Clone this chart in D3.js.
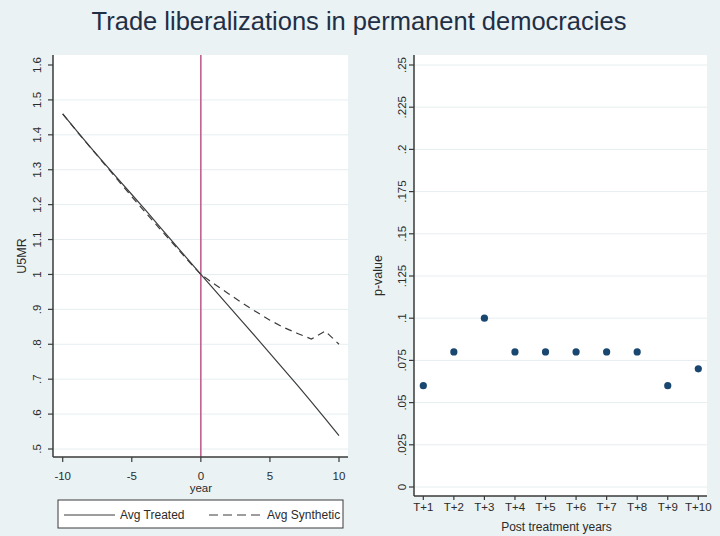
<!DOCTYPE html>
<html>
<head>
<meta charset="utf-8">
<script src="https://cdn.jsdelivr.net/npm/d3@7"></script>
<style>
  html, body { margin: 0; padding: 0; background: #eaf2f3; }
  svg { display: block; font-family: "Liberation Sans", Arial, sans-serif; }
</style>
</head>
<body>
<svg id="chart" width="720" height="536"></svg>
<script>
// ---- Left panel: average U5MR, treated vs synthetic ----
const years = [-10, -9, -8, -7, -6, -5, -4, -3, -2, -1, 0, 1, 2, 3, 4, 5, 6, 7, 8, 9, 10];
const avgTreated = [1.46, 1.412, 1.365, 1.319, 1.274, 1.229, 1.184, 1.138, 1.092, 1.046, 1.0,
                    0.955, 0.91, 0.865, 0.82, 0.774, 0.728, 0.682, 0.635, 0.587, 0.538];
const avgSynthetic = [1.46, 1.411, 1.364, 1.317, 1.27, 1.223, 1.177, 1.132, 1.088, 1.043, 1.0,
                      0.972, 0.945, 0.918, 0.893, 0.869, 0.848, 0.831, 0.815, 0.838, 0.80];
const leftYTicks = [0.5, 0.6, 0.7, 0.8, 0.9, 1.0, 1.1, 1.2, 1.3, 1.4, 1.5, 1.6];
const leftXTicks = [-10, -5, 0, 5, 10];
const treatmentYear = 0;

// ---- Right panel: p-values by post-treatment year ----
const postYears = ["T+1", "T+2", "T+3", "T+4", "T+5", "T+6", "T+7", "T+8", "T+9", "T+10"];
const pValues = [0.06, 0.08, 0.10, 0.08, 0.08, 0.08, 0.08, 0.08, 0.06, 0.07];
const rightYTicks = [0, 0.025, 0.05, 0.075, 0.1, 0.125, 0.15, 0.175, 0.2, 0.225, 0.25];

const titleText = "Trade liberalizations in permanent democracies";

// Stata-style number labels: drop the leading zero (".5", ".025")
const stataFmt = v => {
  const s = String(+v.toFixed(3));
  return s.startsWith("0.") ? s.slice(1) : s;
};

const svg = d3.select("#chart");
const axisColor = "#3a3a3a";
const gridColor = "#e6eef0";
const textColor = "#2b2b2b";
const bg = "#eaf2f3";

svg.append("rect").attr("width", 720).attr("height", 536).attr("fill", bg);

svg.append("text")
  .attr("x", 359).attr("y", 30)
  .attr("text-anchor", "middle")
  .attr("font-size", 25.5)
  .attr("fill", "#1f2f45")
  .text(titleText);

// Draw a vertical-label Stata y axis plus gridlines
function drawYAxis(g, y, ticks, x0, x1, labelX, fmt) {
  g.selectAll(".grid").data(ticks).join("line")
    .attr("x1", x0).attr("x2", x1)
    .attr("y1", d => y(d)).attr("y2", d => y(d))
    .attr("stroke", gridColor).attr("stroke-width", 1);
  g.selectAll(".ytick").data(ticks).join("line")
    .attr("x1", x0 - 5).attr("x2", x0)
    .attr("y1", d => y(d)).attr("y2", d => y(d))
    .attr("stroke", axisColor).attr("stroke-width", 1.2);
  g.selectAll(".ylab").data(ticks).join("text")
    .attr("transform", d => `translate(${labelX},${y(d)}) rotate(-90)`)
    .attr("text-anchor", "middle")
    .attr("dominant-baseline", "central")
    .attr("font-size", 11.5)
    .attr("fill", textColor)
    .text(fmt);
}

// ---------- Left panel ----------
const L = { x0: 53, x1: 348, y0: 55, y1: 457 };
const xL = d3.scaleLinear().domain([-10, 10]).range([62.7, 339]);
const yL = d3.scaleLinear().domain([0.5, 1.6]).range([449, 65]);
const gL = svg.append("g");

gL.append("rect").attr("x", L.x0).attr("y", L.y0)
  .attr("width", L.x1 - L.x0).attr("height", L.y1 - L.y0).attr("fill", "#ffffff");
drawYAxis(gL.append("g"), yL, leftYTicks.slice(0, -1), L.x0, L.x1, 37, stataFmt);
// top tick (1.6) carries no gridline
drawYAxis(gL.append("g"), yL, leftYTicks.slice(-1), L.x0, L.x0, 37, stataFmt);

gL.append("line").attr("x1", xL(treatmentYear)).attr("x2", xL(treatmentYear))
  .attr("y1", L.y0).attr("y2", L.y1)
  .attr("stroke", "#b84a80").attr("stroke-width", 1.4);

const lineL = d3.line().x((d, i) => xL(years[i])).y(d => yL(d));
gL.append("path").datum(avgTreated).attr("d", lineL)
  .attr("fill", "none").attr("stroke", "#3c3c3c").attr("stroke-width", 1.2);
gL.append("path").datum(avgSynthetic).attr("d", lineL)
  .attr("fill", "none").attr("stroke", "#3c3c3c").attr("stroke-width", 1.2)
  .attr("stroke-dasharray", "7,5");

gL.append("line").attr("x1", L.x0).attr("x2", L.x0).attr("y1", L.y0).attr("y2", L.y1)
  .attr("stroke", axisColor).attr("stroke-width", 1.5);
gL.append("line").attr("x1", L.x0).attr("x2", L.x1).attr("y1", L.y1).attr("y2", L.y1)
  .attr("stroke", axisColor).attr("stroke-width", 1.5);
gL.selectAll(".xtick").data(leftXTicks).join("line")
  .attr("x1", d => xL(d)).attr("x2", d => xL(d))
  .attr("y1", L.y1).attr("y2", L.y1 + 5)
  .attr("stroke", axisColor).attr("stroke-width", 1.2);
gL.selectAll(".xlab").data(leftXTicks).join("text")
  .attr("x", d => xL(d)).attr("y", 480)
  .attr("text-anchor", "middle").attr("font-size", 11.5).attr("fill", textColor)
  .text(d => d);
gL.append("text").attr("x", xL(0)).attr("y", 492)
  .attr("text-anchor", "middle").attr("font-size", 11.5).attr("fill", textColor)
  .text("year");
gL.append("text")
  .attr("transform", `translate(22,${(L.y0 + L.y1) / 2}) rotate(-90)`)
  .attr("text-anchor", "middle").attr("dominant-baseline", "central")
  .attr("font-size", 12.5).attr("fill", textColor)
  .text("U5MR");

// legend
const lg = gL.append("g");
lg.append("rect").attr("x", 58).attr("y", 500).attr("width", 285).attr("height", 28)
  .attr("fill", "#ffffff").attr("stroke", "#3a3a3a").attr("stroke-width", 1);
lg.append("line").attr("x1", 64).attr("x2", 115).attr("y1", 515).attr("y2", 515)
  .attr("stroke", "#3c3c3c").attr("stroke-width", 1.2);
lg.append("text").attr("x", 120).attr("y", 519).attr("font-size", 12).attr("fill", textColor)
  .text("Avg Treated");
lg.append("line").attr("x1", 209).attr("x2", 261).attr("y1", 515).attr("y2", 515)
  .attr("stroke", "#3c3c3c").attr("stroke-width", 1.2).attr("stroke-dasharray", "9,5");
lg.append("text").attr("x", 267).attr("y", 519).attr("font-size", 12).attr("fill", textColor)
  .text("Avg Synthetic");

// ---------- Right panel ----------
const R = { x0: 414, x1: 707, y0: 55, y1: 496 };
const xR = d3.scalePoint().domain(postYears).range([423.3, 698.3]);
const yR = d3.scaleLinear().domain([0, 0.25]).range([487, 65]);
const gR = svg.append("g");

gR.append("rect").attr("x", R.x0).attr("y", R.y0)
  .attr("width", R.x1 - R.x0).attr("height", R.y1 - R.y0).attr("fill", "#ffffff");
drawYAxis(gR.append("g"), yR, rightYTicks, R.x0, R.x1, 401.5, stataFmt);

gR.selectAll(".pt").data(pValues).join("circle")
  .attr("cx", (d, i) => xR(postYears[i])).attr("cy", d => yR(d))
  .attr("r", 3.6).attr("fill", "#1a476f");

gR.append("line").attr("x1", R.x0).attr("x2", R.x0).attr("y1", R.y0).attr("y2", R.y1)
  .attr("stroke", axisColor).attr("stroke-width", 1.5);
gR.append("line").attr("x1", R.x0).attr("x2", R.x1).attr("y1", R.y1).attr("y2", R.y1)
  .attr("stroke", axisColor).attr("stroke-width", 1.5);
gR.selectAll(".xtick").data(postYears).join("line")
  .attr("x1", d => xR(d)).attr("x2", d => xR(d))
  .attr("y1", R.y1).attr("y2", R.y1 + 4)
  .attr("stroke", axisColor).attr("stroke-width", 1.2);
gR.selectAll(".xlab").data(postYears).join("text")
  .attr("x", d => xR(d)).attr("y", 511)
  .attr("text-anchor", "middle").attr("font-size", 11.5).attr("fill", textColor)
  .text(d => d);
gR.append("text").attr("x", (R.x0 + R.x1) / 2 - 4).attr("y", 531)
  .attr("text-anchor", "middle").attr("font-size", 12).attr("fill", textColor)
  .text("Post treatment years");
gR.append("text")
  .attr("transform", `translate(378,${(R.y0 + R.y1) / 2}) rotate(-90)`)
  .attr("text-anchor", "middle").attr("dominant-baseline", "central")
  .attr("font-size", 12.5).attr("fill", textColor)
  .text("p-value");
</script>
</body>
</html>
